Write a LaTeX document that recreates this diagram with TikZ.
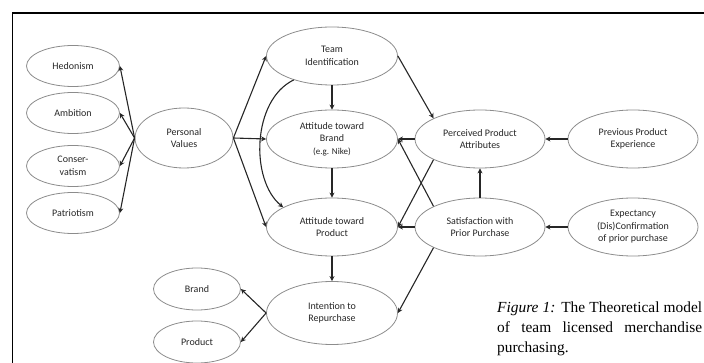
\documentclass[tikz,border=0pt]{standalone}
\usepackage{fontspec}
\setmainfont{Liberation Serif}
\newfontfamily\calibri{Carlito}
\usetikzlibrary{arrows.meta,positioning,shapes.geometric}
\tikzset{
  oval/.style={ellipse,draw=black!45,line width=0.8pt,text=black!85,inner sep=0pt,
    align=center,font=\calibri\fontsize{10}{12.5}\selectfont},
  small/.style={oval,minimum width=93pt,minimum height=41pt},
  mid/.style={oval,minimum width=131pt,minimum height=58pt},
  link/.style={draw=black!85,line width=1.1pt,-{Stealth[length=5pt,width=5pt]}},
}

\begin{document}
\begin{tikzpicture}[x=1pt,y=-1pt]
  \useasboundingbox (0,0) rectangle (704,363);
  % frame of the figure box
  \draw[line width=1.2pt] (12.5,380) -- (12.5,13) -- (720,13);
  % values
  \node[small] (hed) at (73,66) {Hedonism};
  \node[small] (amb) at (73,113) {Ambition};
  \node[small] (con) at (73,166) {Conser-\\vatism};
  \node[small] (pat) at (73,213) {Patriotism};
  \node[oval,minimum width=98pt,minimum height=60pt] (pv) at (184,138) {Personal\\Values};
  % attitudes
  \node[mid] (team) at (332,56) {Team\\Identification};
  \node[mid] (atb) at (332,139) {Attitude toward\\Brand\\{\fontsize{9}{11}\selectfont(e.g. Nike)}};
  \node[mid] (atp) at (332,227) {Attitude toward\\Product};
  \node[mid,minimum height=63pt] (int) at (332,313) {Intention to\\Repurchase};
  \node[oval,minimum width=87pt,minimum height=42pt] (brand) at (197,289) {Brand};
  \node[oval,minimum width=87pt,minimum height=42pt] (prod) at (197,342) {Product};
  % product side
  \node[mid,minimum width=130pt] (ppa) at (480,139) {Perceived Product\\Attributes};
  \node[mid,minimum width=130pt] (ppe) at (633,139) {Previous Product\\Experience};
  \node[mid,minimum width=130pt] (sat) at (480,227) {Satisfaction with\\Prior Purchase};
  \node[mid,minimum width=130pt] (exp) at (633,227) {Expectancy\\(Dis)Confirmation\\of prior purchase};
  % links
  \foreach \v in {hed,amb,con,pat}
    \draw[link] (pv.west) -- (\v.east);
  \foreach \v in {team,atb,atp}
    \draw[link] (pv.east) -- (\v.west);
  \draw[link] (team.212) .. controls (252,100) and (250,180) .. (atp.158);
  \draw[link] (team) -- (atb);
  \draw[link] (atb) -- (atp);
  \draw[link] (atp) -- (int);
  \draw[link] (team.east) -- (ppa.156);
  \draw[link] (ppa) -- (atb);
  \draw[link] (ppe) -- (ppa);
  \draw[link] (sat) -- (ppa);
  \draw[link] (exp) -- (sat);
  \draw[link] (sat) -- (atp);
  \draw[link] (sat.156) -- (atb.east);
  \draw[link] (ppa.204) -- (atp.east);
  \draw[link] (sat.204) -- (int.east);
  \draw[link] (int.west) -- (brand.east);
  \draw[link] (int.west) -- (prod.east);
  % caption
  \node[anchor=north west,inner sep=0pt,text width=205pt,align=justify,
    font=\fontsize{15.4}{20}\selectfont] (cap) at (497,302)
    {\textit{Figure 1:} The Theoretical model\linebreak of team licensed merchandise\linebreak purchasing.};
\end{tikzpicture}
\end{document}
